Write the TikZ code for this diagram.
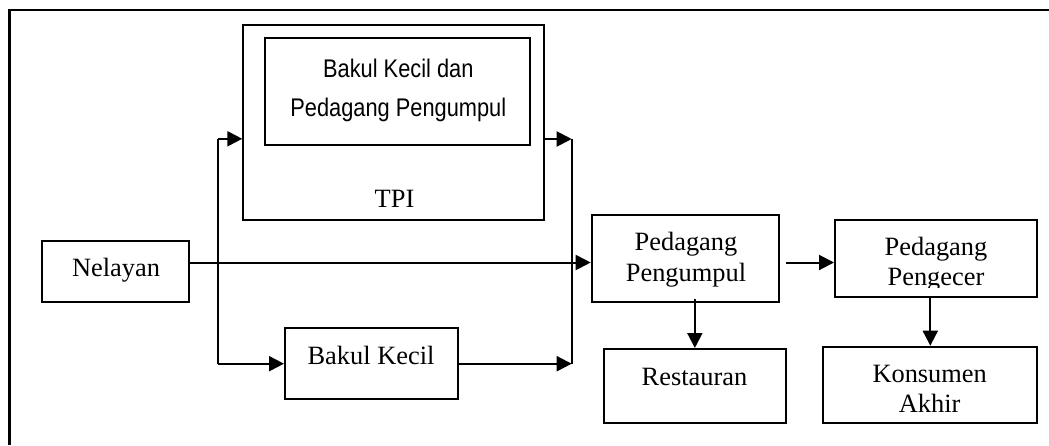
\documentclass[tikz,border=0pt]{standalone}
\usepackage{fontspec}
\setmainfont{Liberation Serif}
\newfontfamily\narrowsans[FakeStretch=0.855]{Liberation Sans}
\usetikzlibrary{arrows.meta}

\tikzset{
  box/.style={draw, line width=2pt, rectangle, inner sep=0pt},
  txt/.style={inner sep=0pt, align=center, anchor=base,
              font=\fontsize{26.4}{30.4}\selectfont},
  sanstxt/.style={inner sep=0pt, align=center, anchor=base,
              font=\narrowsans\fontsize{25.5}{39.4}\selectfont},
  ln/.style={line width=2pt},
  arr/.style={line width=2pt, -{Triangle[length=15pt,width=15pt]}},
  frame/.style={line width=2.4pt}
}

\begin{document}
\begin{tikzpicture}[x=1pt,y=-1pt]
\useasboundingbox (0,0) rectangle (1049,445);

% open outer frame (top and left edges)
\draw[frame] (9.3,445) -- (9.3,10) -- (1049,10);

% boxes
\node[box, minimum width=301pt, minimum height=194.7pt] (tpi) at (393.8,122.65) {};
\node[box, minimum width=265.5pt, minimum height=106.8pt] (bkpp) at (397.55,91.1) {};
\node[box, minimum width=147pt, minimum height=61pt] (nel) at (115.5,271.5) {};
\node[box, minimum width=172.5pt, minimum height=71pt] (bk) at (371.25,363.7) {};
\node[box, minimum width=187.6pt, minimum height=86.7pt] (pp) at (685.5,258.35) {};
\node[box, minimum width=202.3pt, minimum height=76.5pt] (ppe) at (936.15,258.25) {};
\node[box, minimum width=181.7pt, minimum height=73.7pt] (res) at (694.85,385.85) {};
\node[box, minimum width=214pt, minimum height=76pt] (kon) at (930.3,384.7) {};

% labels (multi-line labels sit on the baseline of their last line)
\node[sanstxt] (tbkpp) at (398.3,116.7) {Bakul Kecil dan\\Pedagang Pengumpul};
\node[txt] (ttpi) at (394.5,207.3) {TPI};
\node[txt] (tnel) at (116,276.7) {Nelayan};
\node[txt] (tbk) at (371,364) {Bakul Kecil};
\node[txt] (tpp) at (686,281) {Pedagang\\Pengumpul};
\begin{scope}
  \clip (835,220) rectangle (1037,287);
  \node[txt] (tppe) at (936,285.7) {Pedagang\\Pengecer};
\end{scope}
\node[txt] (tres) at (694.5,385) {Restauran};
\node[txt] (tkon) at (929.7,412.7) {Konsumen\\Akhir};

% branch points
\coordinate (lt) at (218.3,138.8);
\coordinate (rt) at (571.7,139);
\coordinate (ylev) at (0,262.5);

% connectors
\draw[ln] (lt) -- (lt |- bk.west);
\draw[arr] (lt) -- (tpi.west |- lt);
\draw[arr] (lt |- bk.west) -- (bk.west);
\draw[arr] (tpi.east |- rt) -- (rt);
\draw[arr] (bk.east) -- (rt |- bk.east);
\draw[ln] (rt) -- (rt |- bk.east);
\draw[arr] (nel.east |- ylev) -- (pp.west |- ylev);
\draw[arr, shorten <=6pt] (pp.east |- ylev) -- (ppe.west |- ylev);
\draw[arr, shorten <=-3.5pt] (pp.south -| res.north) -- (res.north);
\draw[arr, shorten <=-2pt] (ppe.south -| kon.north) -- (kon.north);
\end{tikzpicture}
\end{document}
